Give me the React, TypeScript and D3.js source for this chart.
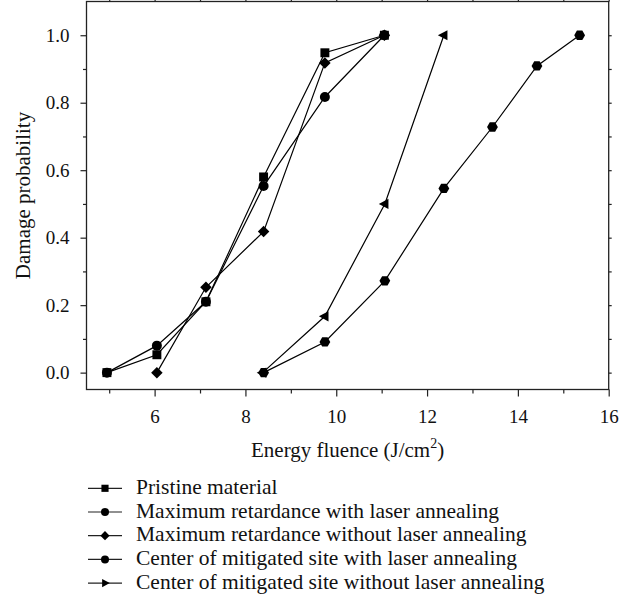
import React, { useEffect, useRef } from "react";
import * as d3 from "d3";

// series values
const pristineX = [4.95, 6.05, 7.13, 8.4, 9.75, 11.06];
const pristineY = [0, 0.053, 0.21, 0.58, 0.948, 1.0];

const retWithX = [4.95, 6.05, 7.13, 8.4, 9.75, 11.06];
const retWithY = [0, 0.08, 0.21, 0.553, 0.817, 1.0];

const retWithoutX = [6.05, 7.13, 8.4, 9.75, 11.06];
const retWithoutY = [0, 0.253, 0.418, 0.918, 1.0];

const centerWithX = [8.4, 9.75, 11.07, 12.37, 13.44, 14.42, 15.36];
const centerWithY = [0, 0.091, 0.272, 0.546, 0.728, 0.909, 1.0];

const centerWithoutX = [8.38, 9.75, 11.07, 12.37];
const centerWithoutY = [0, 0.167, 0.5, 1.0];

const seriesNames = [
  "Pristine material",
  "Maximum retardance with laser annealing",
  "Maximum retardance without laser annealing",
  "Center of mitigated site with laser annealing",
  "Center of mitigated site without laser annealing",
];

const xMajorTicks = [6, 8, 10, 12, 14, 16];
const xMinorTicks = [5, 7, 9, 11, 13, 15];
const yMajorTicks = [0, 0.2, 0.4, 0.6, 0.8, 1.0];
const yMinorTicks = [0.1, 0.3, 0.5, 0.7, 0.9];

const FONT = "'Liberation Serif', 'DejaVu Serif', serif";

// marker path generators, centred on 0,0
const markerPath = (kind: string, r: number) => {
  if (kind === "square") return d3.symbol(d3.symbolSquare, r * r * 3.2)();
  if (kind === "circle") return d3.symbol(d3.symbolCircle, Math.PI * r * r)();
  if (kind === "diamond") {
    const s = r * 1.15;
    return `M0,${-s}L${s},0L0,${s}L${-s},0Z`;
  }
  if (kind === "hexagon") {
    const pts = d3.range(6).map((i) => {
      const a = (Math.PI / 3) * i;
      return [Math.cos(a) * r * 1.08, Math.sin(a) * r * 1.08];
    });
    return "M" + pts.map((p) => p.join(",")).join("L") + "Z";
  }
  if (kind === "triLeft") {
    const s = r * 1.2;
    return `M${-s},0L${s * 0.6},${-s * 0.85}L${s * 0.6},${s * 0.85}Z`;
  }
  if (kind === "triRight") {
    const s = r * 1.2;
    return `M${s},0L${-s * 0.6},${-s * 0.85}L${-s * 0.6},${s * 0.85}Z`;
  }
  return "";
};

const App = () => {
  const ref = useRef<SVGSVGElement>(null);

  useEffect(() => {
    const svg = d3.select(ref.current);
    svg.selectAll("*").remove();

    const left = 86.5,
      right = 608.7,
      top = 1.5,
      bottom = 389.5;

    const x = d3.scaleLinear().domain([4.5, 16]).range([left, right]);
    const y = d3.scaleLinear().domain([-0.05, 1.1]).range([bottom, top]);

    const series = [
      { xs: pristineX, ys: pristineY, kind: "square" },
      { xs: retWithX, ys: retWithY, kind: "circle" },
      { xs: retWithoutX, ys: retWithoutY, kind: "diamond" },
      { xs: centerWithX, ys: centerWithY, kind: "hexagon" },
      { xs: centerWithoutX, ys: centerWithoutY, kind: "triLeft" },
    ];

    const g = svg.append("g");

    // frame
    g.append("rect")
      .attr("x", left)
      .attr("y", top)
      .attr("width", right - left)
      .attr("height", bottom - top)
      .attr("fill", "none")
      .attr("stroke", "#222")
      .attr("stroke-width", 1.3);

    // bottom axis
    const bottomAxis = g.append("g").attr("transform", `translate(0,${bottom})`);
    bottomAxis
      .call(d3.axisBottom(x).tickValues(xMajorTicks).tickSize(7).tickPadding(13).tickFormat(d3.format("d")))
      .call((a) => a.select(".domain").remove());
    bottomAxis
      .append("g")
      .call(d3.axisBottom(x).tickValues(xMinorTicks).tickSize(4).tickFormat(() => ""))
      .call((a) => a.select(".domain").remove());

    // top axis (ticks mostly cut off)
    g.append("g")
      .attr("transform", `translate(0,${top})`)
      .call(d3.axisTop(x).tickValues(xMajorTicks.concat(xMinorTicks)).tickSize(4).tickFormat(() => ""))
      .call((a) => a.select(".domain").remove());

    // left axis
    const leftAxis = g.append("g").attr("transform", `translate(${left},0)`);
    leftAxis
      .call(d3.axisLeft(y).tickValues(yMajorTicks).tickSize(6).tickPadding(11).tickFormat(d3.format(".1f")))
      .call((a) => a.select(".domain").remove());
    leftAxis
      .append("g")
      .call(d3.axisLeft(y).tickValues(yMinorTicks).tickSize(3.5).tickFormat(() => ""))
      .call((a) => a.select(".domain").remove());

    // right axis
    g.append("g")
      .attr("transform", `translate(${right},0)`)
      .call(d3.axisRight(y).tickValues(yMajorTicks.concat(yMinorTicks)).tickSize(3).tickFormat(() => ""))
      .call((a) => a.select(".domain").remove());

    g.selectAll(".tick line").attr("stroke", "#222").attr("stroke-width", 1.2);
    g.selectAll(".tick text")
      .attr("font-family", FONT)
      .attr("font-size", 19)
      .attr("fill", "#111");

    // series lines
    const line = d3
      .line<[number, number]>()
      .x((d) => x(d[0]))
      .y((d) => y(d[1]));

    series.forEach((s) => {
      const pts = s.xs.map((v, i) => [v, s.ys[i]] as [number, number]);
      g.append("path")
        .attr("d", line(pts))
        .attr("fill", "none")
        .attr("stroke", "#000")
        .attr("stroke-width", 1.2);
    });

    series.forEach((s) => {
      const pts = s.xs.map((v, i) => [v, s.ys[i]] as [number, number]);
      g.append("g")
        .selectAll("path")
        .data(pts)
        .join("path")
        .attr("transform", (d) => `translate(${x(d[0])},${y(d[1])})`)
        .attr("d", markerPath(s.kind, 5))
        .attr("fill", "#000");
    });

    // axis titles
    const xTitle = g
      .append("text")
      .attr("x", (left + right) / 2)
      .attr("y", 457)
      .attr("text-anchor", "middle")
      .attr("font-family", FONT)
      .attr("font-size", 21)
      .attr("fill", "#111");
    xTitle.append("tspan").text("Energy fluence (J/cm");
    xTitle.append("tspan").attr("dy", -9).attr("font-size", 14).text("2");
    xTitle.append("tspan").attr("dy", 9).text(")");

    g.append("text")
      .attr("transform", `translate(30,${(top + bottom) / 2}) rotate(-90)`)
      .attr("text-anchor", "middle")
      .attr("font-family", FONT)
      .attr("font-size", 21)
      .attr("fill", "#111")
      .text("Damage probability");

    // legend
    const legendKinds = ["square", "circle", "diamond", "circle", "triRight"];
    const legend = g.append("g");
    seriesNames.forEach((name, i) => {
      const ly = 488.3 + i * 23.7;
      legend
        .append("line")
        .attr("x1", 88)
        .attr("x2", 122)
        .attr("y1", ly)
        .attr("y2", ly)
        .attr("stroke", "#222")
        .attr("stroke-width", 1.2);
      legend
        .append("path")
        .attr("transform", `translate(105,${ly})`)
        .attr("d", markerPath(legendKinds[i], 4))
        .attr("fill", "#000");
      legend
        .append("text")
        .attr("x", 136)
        .attr("y", ly + 5.5)
        .attr("font-family", FONT)
        .attr("font-size", 21.5)
        .attr("fill", "#111")
        .text(name);
    });
  }, []);

  return (
    <svg
      ref={ref}
      width={640}
      height={609}
      style={{ position: "absolute", left: 0, top: 0, background: "#fff" }}
    />
  );
};

export default App;
